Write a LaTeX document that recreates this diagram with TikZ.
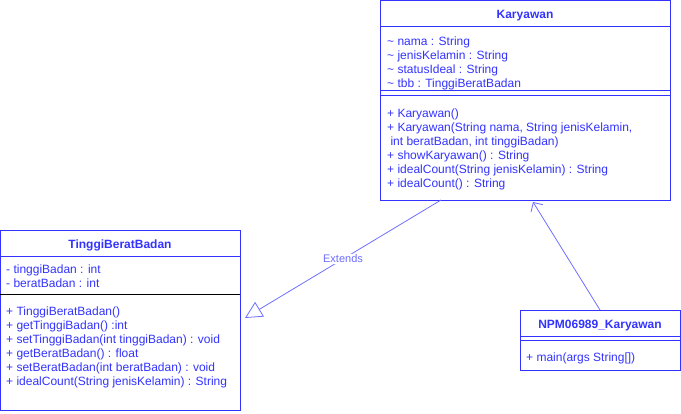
\documentclass[tikz,border=0pt]{standalone}
\usepackage{fontspec}
\setmainfont{Liberation Sans}
\usetikzlibrary{arrows.meta}
\definecolor{umlblue}{RGB}{51,51,255}
\definecolor{lblue}{RGB}{110,110,255}
\begin{document}
\begin{tikzpicture}[x=1pt,y=-1pt,
  cls/.style={draw=umlblue,line width=0.9pt,fill=white,rectangle,inner sep=0pt},
  sep/.style={draw=umlblue,line width=0.9pt},
  txt/.style={anchor=base west,inner sep=0pt,text=umlblue,font=\fontsize{12}{14}\selectfont},
  ttl/.style={anchor=base,inner sep=0pt,text=umlblue,font=\fontsize{12}{14}\selectfont\bfseries}]
\useasboundingbox (0,0) rectangle (681,414);
% Karyawan
\node[cls,minimum width=290pt,minimum height=200pt] (K) at (525,100) {};
\node[ttl] (Kt) at (525,18.5) {Karyawan};
\draw[sep] (380,26) -- (670,26);
\draw[sep] (380,90) -- (670,90);
\draw[sep] (380,95) -- (670,95);
\node[txt] (Ka1) at (387,45.5) {\textasciitilde{} nama : String};
\node[txt] (Ka2) at (387,59.5) {\textasciitilde{} jenisKelamin : String};
\node[txt] (Ka3) at (387,73.5) {\textasciitilde{} statusIdeal : String};
\node[txt] (Ka4) at (387,87.5) {\textasciitilde{} tbb : TinggiBeratBadan};
\node[txt] (Km1) at (387,117.5) {+ Karyawan()};
\node[txt] (Km2) at (387,131.5) {+ Karyawan(String nama, String jenisKelamin,};
\node[txt] (Km3) at (387,145.5) {\ int beratBadan, int tinggiBadan)};
\node[txt] (Km4) at (387,159.5) {+ showKaryawan() : String};
\node[txt] (Km5) at (387,173.5) {+ idealCount(String jenisKelamin) : String};
\node[txt] (Km6) at (387,187.5) {+ idealCount() : String};
% TinggiBeratBadan
\node[cls,minimum width=240pt,minimum height=180pt] (T) at (120,320) {};
\node[ttl] (Tt) at (120,248.5) {TinggiBeratBadan};
\draw[sep] (0,256) -- (240,256);
\draw[draw=black,line width=0.9pt] (0,294) -- (240,294);
\node[txt] (Ta1) at (6,273.5) {- tinggiBadan : int};
\node[txt] (Ta2) at (6,287.5) {- beratBadan : int};
\node[txt] (Tm1) at (6,315.5) {+ TinggiBeratBadan()};
\node[txt] (Tm2) at (6,329.5) {+ getTinggiBadan() :int};
\node[txt] (Tm3) at (6,343.5) {+ setTinggiBadan(int tinggiBadan) : void};
\node[txt] (Tm4) at (6,357.5) {+ getBeratBadan() : float};
\node[txt] (Tm5) at (6,371.5) {+ setBeratBadan(int beratBadan) : void};
\node[txt] (Tm6) at (6,385.5) {+ idealCount(String jenisKelamin) : String};
% NPM06989_Karyawan
\node[cls,minimum width=160pt,minimum height=60pt] (N) at (600,340) {};
\node[ttl] (Nt) at (600,328.5) {NPM06989\_Karyawan};
\draw[sep] (520,336) -- (680,336);
\draw[sep] (520,340) -- (680,340);
\node[txt] (Nm1) at (526,361.5) {+ main(args String[])};
% connectors
\coordinate (Es) at (441,200);
\coordinate (Ee) at (245,318);
\draw[lblue,line width=0.8pt,-{Triangle[open,length=17pt,width=17pt,line width=0.8pt]}] (Es) -- node[fill=white,inner sep=1pt,text=lblue,font=\fontsize{11}{13}\selectfont] (El) {Extends} (Ee);
\coordinate (As) at (600,310);
\coordinate (Ae) at (533,202);
\draw[lblue,line width=0.8pt,-{Straight Barb[length=7pt,width=14pt,line width=0.8pt]}] (As) -- (Ae);
\end{tikzpicture}
\end{document}
